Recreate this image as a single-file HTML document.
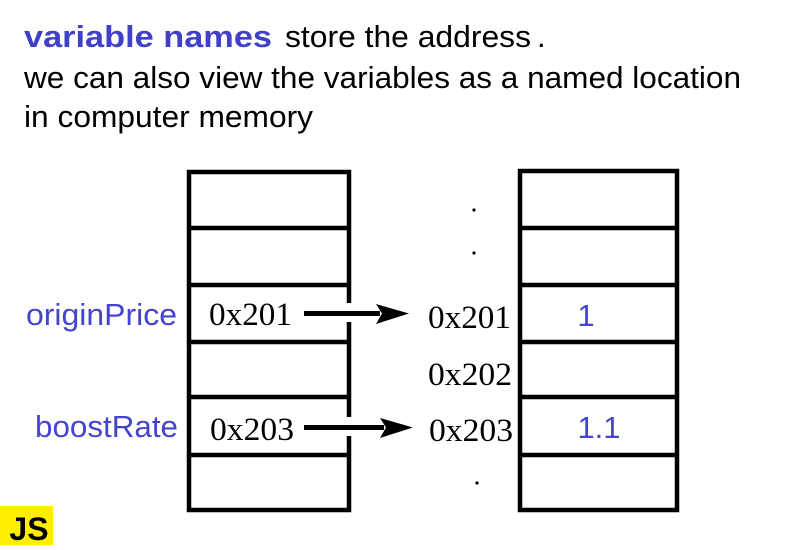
<!DOCTYPE html>
<html><head><meta charset="utf-8"><style>
html,body{margin:0;padding:0;background:#fff;width:800px;height:550px;overflow:hidden}
</style></head><body>
<svg width="800" height="550" xmlns="http://www.w3.org/2000/svg">
<g font-family="Liberation Sans, sans-serif" font-size="31">
<text x="24" y="47" fill="#4040c8" font-weight="bold" font-size="31" textLength="248" lengthAdjust="spacingAndGlyphs">variable names</text>
<text x="285" y="47" fill="#000" textLength="246" lengthAdjust="spacingAndGlyphs">store the address</text>
<text x="537" y="47" fill="#000">.</text>
<text x="24" y="88" textLength="717" lengthAdjust="spacingAndGlyphs">we can also view the variables as a named location</text>
<text x="24" y="127" textLength="289" lengthAdjust="spacingAndGlyphs">in computer memory</text>
</g>
<g fill="none" stroke="#000" stroke-width="4.5">
<rect x="189" y="172" width="160" height="338"/>
<line x1="189" y1="228" x2="349" y2="228"/>
<line x1="189" y1="285" x2="349" y2="285"/>
<line x1="189" y1="342" x2="349" y2="342"/>
<line x1="189" y1="397" x2="349" y2="397"/>
<line x1="189" y1="455" x2="349" y2="455"/>
<rect x="520" y="171" width="157" height="339"/>
<line x1="520" y1="228" x2="677" y2="228"/>
<line x1="520" y1="285" x2="677" y2="285"/>
<line x1="520" y1="342" x2="677" y2="342"/>
<line x1="520" y1="397" x2="677" y2="397"/>
<line x1="520" y1="455" x2="677" y2="455"/>
</g>
<rect x="345" y="303" width="8" height="19" fill="#fff"/>
<rect x="345" y="417" width="8" height="19" fill="#fff"/>
<g fill="#000">
<rect x="304" y="311" width="76" height="5"/>
<polygon points="376,304 409,313.5 376,324 382,313.5"/>
<rect x="304" y="425" width="80" height="5"/>
<polygon points="380,418 413,427.5 380,438 386,427.5"/>
<circle cx="474" cy="210" r="1.6"/>
<circle cx="474" cy="253" r="1.6"/>
<circle cx="477" cy="483" r="1.6"/>
</g>
<g font-family="Liberation Serif, serif" font-size="33" fill="#000">
<text x="209" y="325" textLength="83" lengthAdjust="spacingAndGlyphs">0x201</text>
<text x="210" y="440" textLength="84" lengthAdjust="spacingAndGlyphs">0x203</text>
<text x="428" y="328" textLength="83" lengthAdjust="spacingAndGlyphs">0x201</text>
<text x="428" y="385" textLength="84" lengthAdjust="spacingAndGlyphs">0x202</text>
<text x="429" y="441" textLength="84" lengthAdjust="spacingAndGlyphs">0x203</text>
</g>
<g font-family="Liberation Sans, sans-serif" font-size="31" fill="#4444cc">
<text x="26" y="325" textLength="151" lengthAdjust="spacingAndGlyphs">originPrice</text>
<text x="35" y="437" textLength="143" lengthAdjust="spacingAndGlyphs">boostRate</text>
<text x="586" y="326" text-anchor="middle">1</text>
<text x="599" y="438" text-anchor="middle">1.1</text>
</g>
<rect x="0" y="506" width="53" height="39" fill="#ffee00"/>
<text x="29" y="540" text-anchor="middle" font-family="Liberation Sans, sans-serif" font-weight="bold" font-size="32" fill="#000">JS</text>
</svg>
</body></html>
